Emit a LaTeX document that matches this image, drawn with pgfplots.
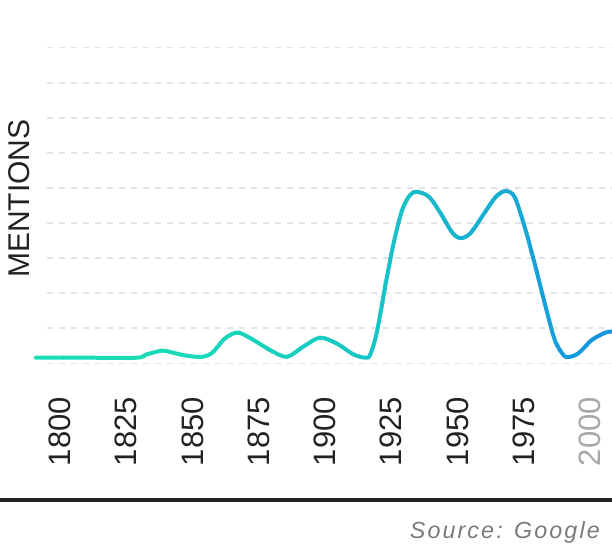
\documentclass[border=0pt]{standalone}
\usepackage{fontspec}
\setmainfont{Liberation Sans}
\newfontfamily\srcfont[LetterSpace=9]{Liberation Sans}
\usepackage{pgfplots}
\pgfplotsset{compat=1.18}

\definecolor{lineA}{HTML}{1ADEB6}
\definecolor{lineB}{HTML}{1590E2}
\definecolor{textc}{HTML}{222222}
\definecolor{faded}{HTML}{A8A8A8}
\definecolor{gridc}{HTML}{E2E4E9}
\definecolor{srcc}{HTML}{7A7A7A}

\pgfplotstableread{
x y
1790.9 0.165
1810.0 0.165
1828.9 0.165
1832.7 0.26
1838.4 0.365
1841.5 0.33
1846.5 0.24
1852.8 0.185
1857.2 0.29
1861.6 0.67
1864.2 0.81
1867.5 0.88
1873.0 0.67
1879.3 0.38
1885.6 0.19
1891.8 0.48
1898.1 0.735
1904.4 0.57
1910.7 0.26
1915.1 0.165
1917.0 0.24
1919.5 0.87
1922.7 2.19
1925.9 3.43
1929.1 4.37
1932.1 4.80
1934.7 4.89
1939.2 4.75
1943.6 4.28
1948.1 3.72
1951.3 3.57
1955.0 3.72
1960.1 4.28
1964.5 4.75
1968.1 4.91
1971.5 4.75
1975.3 3.90
1979.1 2.85
1982.9 1.72
1986.7 0.67
1990.0 0.24
1991.8 0.18
1995.6 0.29
2000.7 0.67
2005.8 0.88
2008.3 0.91
}\mentions

\begin{document}
\begin{tikzpicture}
\path[use as bounding box] (0,0) rectangle (612bp,544bp);

\begin{axis}[
    at={(47bp,180.5bp)},
    anchor=south west,
    scale only axis,
    width=565bp,
    height=316bp,
    xmin=1795.09, xmax=2008.3,
    ymin=0, ymax=9,
    clip=false,
    axis line style={draw=none},
    tick style={draw=none},
    ytick={0,1,...,9},
    yticklabels={},
    ymajorgrids,
    grid style={gridc, line width=1.8bp, dash pattern=on 6bp off 6bp},
    xtick={1800,1825,1850,1875,1900,1925,1950,1975,2000},
    xticklabels={1800,1825,1850,1875,1900,1925,1950,1975,\textcolor{faded}{2000}},
    xticklabel style={yshift=-33.5bp, rotate=90, anchor=east, inner sep=0pt,
        font=\fontsize{31bp}{31bp}\selectfont, text=textc},
    ylabel={MENTIONS},
    every axis y label/.style={at={(axis description cs:-0.0485,0.522)},
        rotate=90, anchor=center, inner sep=0pt,
        font=\fontsize{30bp}{30bp}\selectfont, text=textc},
]
% same curve drawn in 20 vertical bands, green to blue (blue share grows as p^2)
\pgfplotsinvokeforeach{0,...,19}{
  \begin{scope}
    \clip (axis cs:{1790+11*#1},-2) rectangle (axis cs:{1790.4+11*(#1+1)},12);
    \addplot[color=lineB!\the\numexpr((2*#1+1)*(2*#1+1))/16\relax!lineA, line width=4bp,
        smooth, line join=round, line cap=round] table {\mentions};
  \end{scope}
}
\end{axis}

\draw[textc, line width=3.7bp] (0,43.8bp) -- (612bp,43.8bp);
\node[anchor=base east, inner sep=0pt, text=srcc,
    font=\srcfont\itshape\fontsize{23.3bp}{23.3bp}\selectfont]
    at (600bp,5.9bp) {Source: Google};
\end{tikzpicture}
\end{document}
